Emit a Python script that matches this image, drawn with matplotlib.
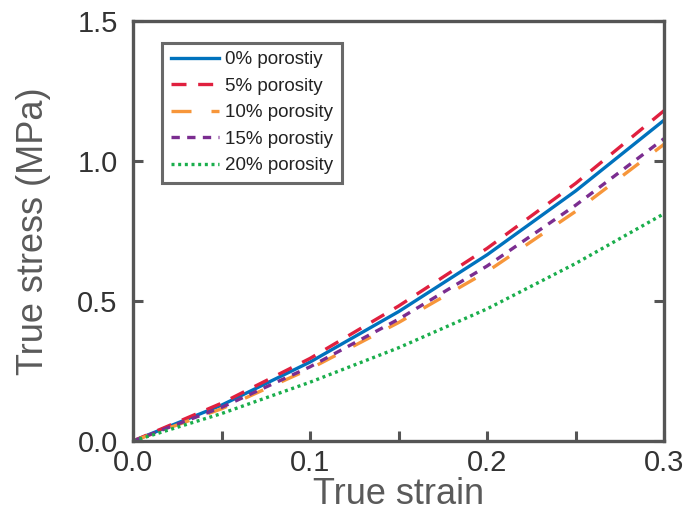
import numpy as np
import matplotlib
matplotlib.use('Agg')
import matplotlib.pyplot as plt
from matplotlib.ticker import MultipleLocator

plt.rcParams['font.family'] = ['Liberation Sans', 'DejaVu Sans']

# 读图得到的数据
strain = [0, 0.05, 0.1, 0.15, 0.2, 0.25, 0.3]
s_p0 = [0, 0.128, 0.282, 0.462, 0.665, 0.893, 1.146]
s_p5 = [0, 0.135, 0.295, 0.482, 0.688, 0.92, 1.18]
s_p10 = [0, 0.115, 0.258, 0.423, 0.605, 0.82, 1.06]
s_p15 = [0, 0.12, 0.265, 0.435, 0.625, 0.842, 1.08]
s_p20 = [0, 0.098, 0.21, 0.333, 0.472, 0.634, 0.812]
labels = ['0% porostiy', '5% porosity', '10% porosity', '15% porostiy', '20% porosity']

fig = plt.figure(figsize=(6.89, 5.18), dpi=100)
ax = fig.add_axes([0.193, 0.1486, 0.771, 0.811])

ax.plot(strain, s_p0, color='#0072BD', lw=2.4, label=labels[0])
ax.plot(strain, s_p5, color='#E0203F', lw=2.4, dashes=(4.5, 3.5), label=labels[1])
ax.plot(strain, s_p10, color='#F7963A', lw=2.4, dashes=(6, 6), label=labels[2])
ax.plot(strain, s_p15, color='#7B2D90', lw=2.4, dashes=(2.5, 2.2), label=labels[3])
ax.plot(strain, s_p20, color='#1AAE4C', lw=2.4, dashes=(0.9, 1.1), label=labels[4])

ax.set_xlim(0, 0.3)
ax.set_ylim(0, 1.5)
ax.xaxis.set_major_locator(MultipleLocator(0.1))
ax.xaxis.set_minor_locator(MultipleLocator(0.05))
ax.yaxis.set_major_locator(MultipleLocator(0.5))
ax.xaxis.set_major_formatter(plt.FormatStrFormatter('%.1f'))
ax.yaxis.set_major_formatter(plt.FormatStrFormatter('%.1f'))

for sp in ax.spines.values():
    sp.set_linewidth(2.4)
    sp.set_color('#555555')
ax.tick_params(axis='x', which='both', direction='in', length=7, width=2.2,
               color='#555555', top=False, labelsize=21, labelcolor='#333333', pad=6)
ax.tick_params(axis='y', which='both', direction='in', length=7, width=2.2,
               color='#555555', right=True, labelsize=21, labelcolor='#333333', pad=11)

ax.set_xlabel('True strain', fontsize=26, color='#5a5a5a', labelpad=0)
ax.set_ylabel('True stress (MPa)', fontsize=26, color='#5a5a5a', labelpad=19)

leg = ax.legend(loc='upper left', bbox_to_anchor=(0.055, 0.948), fontsize=13.5,
                frameon=True, fancybox=False, handlelength=2.6, handletextpad=0.3,
                labelspacing=0.5, borderpad=0.45, borderaxespad=0)
leg.get_frame().set_edgecolor('#444444')
leg.get_frame().set_linewidth(2.2)
for t in leg.get_texts():
    t.set_color('#222222')

fig.savefig('out.png', dpi=100)
